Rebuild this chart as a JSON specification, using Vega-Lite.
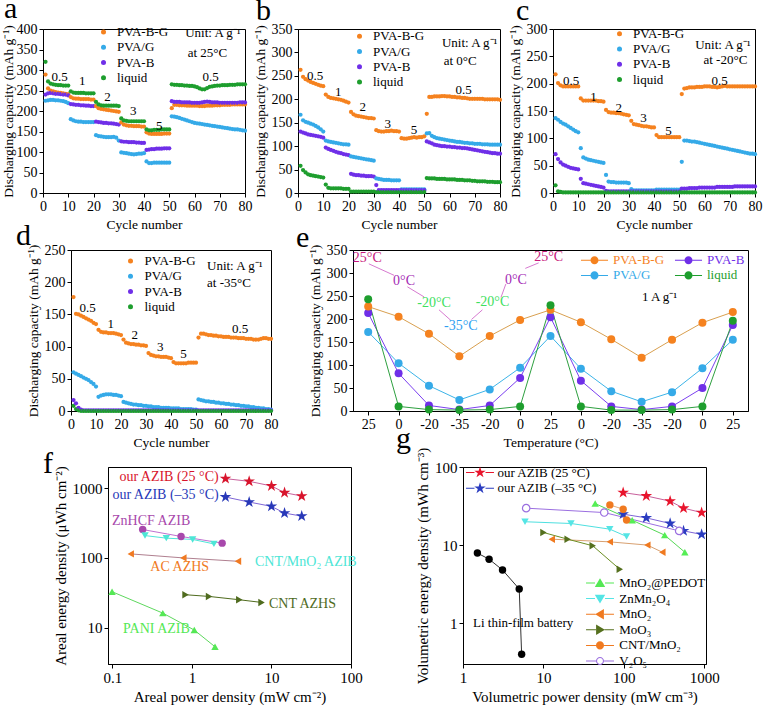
{
"$schema":"https://vega.github.io/schema/vega-lite/v6.json",
"padding":{"left":0,"top":-7,"right":0,"bottom":0},
"background":"white",
"config":{
 "font":"Liberation Serif",
 "view":{"stroke":"black","strokeWidth":1},
 "axis":{"grid":false,"domainColor":"black","tickColor":"black","labelColor":"black","titleColor":"black","labelFont":"Liberation Serif","titleFont":"Liberation Serif","labelFontSize":14,"titleFontSize":13.5,"titleFontWeight":"normal","tickSize":4,"labelPadding":2,"labelOverlap":false,"labelFlush":false},
 "legend":{"labelFont":"Liberation Serif","labelFontSize":13,"padding":0},
 "title":{"font":"Liberation Serif","fontSize":30,"fontWeight":"normal","anchor":"start","frame":"group","baseline":"alphabetic","color":"black"},
 "text":{"font":"Liberation Serif"}
},
"spacing":0,
"bounds":"flush",
"resolve":{"scale":{"color":"independent","fill":"independent","stroke":"independent","shape":"independent"}},
"vconcat":[
{"hconcat":[
 {"width":202,"height":164,"title":{"text":"a","dx":-39,"offset":-2},
  "layer":[
   {"data":{"values":[
{"c":1,"g":289,"p":225,"b":240,"l":320},{"c":2,"g":255,"p":226,"b":243,"l":272},{"c":3,"g":250,"p":227,"b":244,"l":267},{"c":4,"g":248,"p":227,"b":243,"l":265},{"c":5,"g":246,"p":226,"b":242,"l":264},{"c":6,"g":245,"p":226,"b":242,"l":263},{"c":7,"g":244,"p":225,"b":241,"l":263},{"c":8,"g":243,"p":224,"b":240,"l":262},{"c":9,"g":242,"p":222,"b":240,"l":262},{"c":10,"g":241,"p":219,"b":238,"l":262},
{"c":11,"g":234,"p":180,"b":217,"l":248},{"c":12,"g":231,"p":177,"b":216,"l":245},{"c":13,"g":230,"p":175,"b":215,"l":244},{"c":14,"g":230,"p":174,"b":215,"l":244},{"c":15,"g":229,"p":174,"b":214,"l":244},{"c":16,"g":229,"p":173,"b":214,"l":244},{"c":17,"g":229,"p":173,"b":213,"l":243},{"c":18,"g":229,"p":173,"b":213,"l":243},{"c":19,"g":228,"p":173,"b":212,"l":243},{"c":20,"g":228,"p":173,"b":212,"l":243},
{"c":21,"g":212,"p":141,"b":174,"l":222},{"c":22,"g":207,"p":139,"b":173,"l":216},{"c":23,"g":205,"p":138,"b":172,"l":214},{"c":24,"g":204,"p":137,"b":171,"l":213},{"c":25,"g":203,"p":136,"b":171,"l":213},{"c":26,"g":202,"p":136,"b":170,"l":213},{"c":27,"g":201,"p":136,"b":170,"l":213},{"c":28,"g":200,"p":137,"b":169,"l":213},{"c":29,"g":199,"p":135,"b":168,"l":213},{"c":30,"g":198,"p":128,"b":167,"l":212},
{"c":31,"g":172,"p":99,"b":126,"l":182},{"c":32,"g":167,"p":98,"b":125,"l":177},{"c":33,"g":165,"p":97,"b":125,"l":176},{"c":34,"g":164,"p":96,"b":124,"l":175},{"c":35,"g":164,"p":95,"b":124,"l":175},{"c":36,"g":163,"p":94,"b":124,"l":175},{"c":37,"g":163,"p":95,"b":123,"l":175},{"c":38,"g":163,"p":96,"b":123,"l":175},{"c":39,"g":162,"p":96,"b":122,"l":175},{"c":40,"g":162,"p":97,"b":122,"l":175},
{"c":41,"g":148,"p":77,"b":105,"l":155},{"c":42,"g":145,"p":73,"b":106,"l":153},{"c":43,"g":144,"p":73,"b":107,"l":153},{"c":44,"g":144,"p":74,"b":107,"l":154},{"c":45,"g":144,"p":74,"b":108,"l":154},{"c":46,"g":144,"p":74,"b":108,"l":154},{"c":47,"g":144,"p":74,"b":108,"l":155},{"c":48,"g":145,"p":74,"b":109,"l":155},{"c":49,"g":145,"p":74,"b":109,"l":155},{"c":50,"g":145,"p":74,"b":109,"l":155},
{"c":51,"g":207,"p":187,"b":224,"l":265},{"c":52,"g":215,"p":186,"b":222,"l":264},{"c":53,"g":215,"p":185,"b":222,"l":264},{"c":54,"g":214,"p":183,"b":222,"l":263},{"c":55,"g":214,"p":181,"b":221,"l":263},{"c":56,"g":214,"p":179,"b":221,"l":262},{"c":57,"g":213,"p":177,"b":221,"l":262},{"c":58,"g":213,"p":175,"b":221,"l":261},{"c":59,"g":213,"p":173,"b":220,"l":261},{"c":60,"g":213,"p":171,"b":220,"l":260},
{"c":61,"g":213,"p":170,"b":220,"l":258},{"c":62,"g":212,"p":169,"b":220,"l":255},{"c":63,"g":212,"p":168,"b":221,"l":253},{"c":64,"g":212,"p":167,"b":222,"l":253},{"c":65,"g":213,"p":166,"b":223,"l":256},{"c":66,"g":213,"p":165,"b":222,"l":259},{"c":67,"g":213,"p":164,"b":221,"l":260},{"c":68,"g":214,"p":163,"b":221,"l":261},{"c":69,"g":214,"p":162,"b":221,"l":262},{"c":70,"g":214,"p":161,"b":220,"l":262},
{"c":71,"g":215,"p":160,"b":220,"l":263},{"c":72,"g":215,"p":159,"b":220,"l":263},{"c":73,"g":215,"p":158,"b":220,"l":263},{"c":74,"g":215,"p":157,"b":220,"l":264},{"c":75,"g":216,"p":156,"b":220,"l":264},{"c":76,"g":216,"p":155,"b":220,"l":264},{"c":77,"g":216,"p":155,"b":220,"l":265},{"c":78,"g":216,"p":154,"b":221,"l":265},{"c":79,"g":216,"p":153,"b":221,"l":265},{"c":80,"g":216,"p":152,"b":221,"l":265}]},
    "transform":[{"fold":["g","p","b","l"],"as":["k","v"]}],
    "mark":{"type":"circle","size":18,"opacity":1},
    "encoding":{
     "x":{"field":"c","type":"quantitative","scale":{"domain":[0,80],"nice":false},"axis":{"values":[0,10,20,30,40,50,60,70,80],"tickCount":30,"labelOverlap":false,"labelFlush":false},"title":"Cycle number"},
     "y":{"field":"v","type":"quantitative","scale":{"domain":[0,400],"nice":false},"axis":{"values":[0,50,100,150,200,250,300,350,400],"tickCount":30,"labelOverlap":false,"labelFlush":false,"titlePadding":1},"title":"Discharging capacity (mAh g⁻¹)"},
     "color":{"field":"k","type":"nominal","scale":{"domain":["g","p","b","l"],"range":["#F5821F","#35AAE8","#6F2FE8","#1E9E2E"]},
      "legend":{"orient":"none","legendX":54,"legendY":-3.6,"title":null,"symbolType":"circle","symbolSize":25,"labelFontSize":13,"labelOffset":7,"rowPadding":1.3,"padding":0,"labelExpr":"{g:'PVA-B-G',p:'PVA/G',b:'PVA-B',l:'liquid'}[datum.value]","encode":{"labels":{"update":{"fill":{"signal":"{g:'#F5821F',p:'#35AAE8',b:'#6F2FE8',l:'#1E9E2E'}[datum.value]"}}}}}}
    }},
   {"data":{"values":[{"x":6.6,"y":284,"t":"0.5"},{"x":15.5,"y":272,"t":"1"},{"x":25.5,"y":235,"t":"2"},{"x":35.7,"y":201,"t":"3"},{"x":46,"y":163,"t":"5"},{"x":66.4,"y":284,"t":"0.5"}]},
    "mark":{"type":"text","fontSize":13,"baseline":"middle","align":"center","color":"black"},
    "encoding":{"x":{"field":"x","type":"quantitative","title":"Cycle number"},"y":{"field":"y","type":"quantitative","title":"Discharging capacity (mAh g⁻¹)"},"text":{"field":"t"}}},
   {"data":{"values":[{"x":56.3,"y":390,"t":"Unit: A g⁻¹"},{"x":57.3,"y":341,"t":"at 25°C"}]},
    "mark":{"type":"text","fontSize":13,"baseline":"middle","align":"left","color":"black"},
    "encoding":{"x":{"field":"x","type":"quantitative","title":"Cycle number"},"y":{"field":"y","type":"quantitative","title":"Discharging capacity (mAh g⁻¹)"},"text":{"field":"t"}}}
  ]},
 {"width":202,"height":164,"title":{"text":"b","dx":-42,"offset":-4},
  "layer":[
   {"data":{"values":[
{"c":1,"g":263,"p":167,"b":131,"l":58},{"c":2,"g":248,"p":155,"b":129,"l":49},{"c":3,"g":243,"p":152,"b":127,"l":44},{"c":4,"g":240,"p":150,"b":125,"l":40},{"c":5,"g":237,"p":148,"b":124,"l":38},{"c":6,"g":235,"p":146,"b":123,"l":37},{"c":7,"g":233,"p":143,"b":122,"l":36},{"c":8,"g":231,"p":140,"b":121,"l":35},{"c":9,"g":229,"p":136,"b":120,"l":34},{"c":10,"g":228,"p":131,"b":118,"l":33},
{"c":11,"g":210,"p":112,"b":97,"l":18},{"c":12,"g":205,"p":110,"b":94,"l":11},{"c":13,"g":203,"p":109,"b":92,"l":10},{"c":14,"g":202,"p":108,"b":90,"l":10},{"c":15,"g":201,"p":107,"b":88,"l":10},{"c":16,"g":200,"p":106,"b":86,"l":10},{"c":17,"g":199,"p":105,"b":85,"l":10},{"c":18,"g":197,"p":104,"b":83,"l":9},{"c":19,"g":195,"p":104,"b":82,"l":9},{"c":20,"g":193,"p":103,"b":81,"l":9},
{"c":21,"g":173,"p":78,"b":41,"l":3},{"c":22,"g":168,"p":77,"b":39,"l":3},{"c":23,"g":165,"p":76,"b":38,"l":3},{"c":24,"g":164,"p":75,"b":38,"l":3},{"c":25,"g":163,"p":74,"b":37,"l":3},{"c":26,"g":162,"p":73,"b":37,"l":3},{"c":27,"g":161,"p":72,"b":36,"l":3},{"c":28,"g":160,"p":71,"b":36,"l":3},{"c":29,"g":160,"p":70,"b":36,"l":3},{"c":30,"g":159,"p":69,"b":35,"l":3},
{"c":31,"g":134,"p":31,"b":17,"l":2},{"c":32,"g":132,"p":30,"b":6,"l":2},{"c":33,"g":131,"p":29,"b":6,"l":2},{"c":34,"g":131,"p":28,"b":6,"l":2},{"c":35,"g":132,"p":28,"b":6,"l":2},{"c":36,"g":132,"p":28,"b":6,"l":2},{"c":37,"g":133,"p":27,"b":6,"l":2},{"c":38,"g":132,"p":27,"b":6,"l":2},{"c":39,"g":132,"p":27,"b":6,"l":2},{"c":40,"g":131,"p":27,"b":6,"l":2},
{"c":41,"g":117,"p":8,"b":6,"l":2},{"c":42,"g":116,"p":8,"b":6,"l":2},{"c":43,"g":116,"p":8,"b":6,"l":2},{"c":44,"g":117,"p":8,"b":6,"l":2},{"c":45,"g":118,"p":8,"b":6,"l":2},{"c":46,"g":119,"p":8,"b":6,"l":2},{"c":47,"g":118,"p":8,"b":6,"l":2},{"c":48,"g":119,"p":8,"b":6,"l":2},{"c":49,"g":119,"p":8,"b":6,"l":2},{"c":50,"g":121,"p":8,"b":6,"l":2},
{"c":51,"g":169,"p":127,"b":110,"l":32},{"c":52,"g":205,"p":128,"b":108,"l":31},{"c":53,"g":205,"p":122,"b":106,"l":31},{"c":54,"g":206,"p":119,"b":103,"l":31},{"c":55,"g":206,"p":117,"b":102,"l":30},{"c":56,"g":206,"p":116,"b":101,"l":30},{"c":57,"g":207,"p":115,"b":100,"l":30},{"c":58,"g":207,"p":114,"b":100,"l":30},{"c":59,"g":206,"p":113,"b":99,"l":29},{"c":60,"g":206,"p":112,"b":99,"l":29},
{"c":61,"g":205,"p":111,"b":98,"l":29},{"c":62,"g":205,"p":110,"b":98,"l":29},{"c":63,"g":204,"p":109,"b":97,"l":28},{"c":64,"g":204,"p":109,"b":97,"l":28},{"c":65,"g":203,"p":108,"b":96,"l":28},{"c":66,"g":203,"p":107,"b":96,"l":27},{"c":67,"g":202,"p":107,"b":95,"l":27},{"c":68,"g":201,"p":106,"b":94,"l":27},{"c":69,"g":201,"p":106,"b":93,"l":26},{"c":70,"g":201,"p":105,"b":92,"l":26},
{"c":71,"g":201,"p":105,"b":91,"l":25},{"c":72,"g":201,"p":105,"b":90,"l":25},{"c":73,"g":201,"p":104,"b":89,"l":25},{"c":74,"g":200,"p":104,"b":88,"l":25},{"c":75,"g":200,"p":104,"b":87,"l":24},{"c":76,"g":200,"p":103,"b":86,"l":24},{"c":77,"g":200,"p":103,"b":85,"l":24},{"c":78,"g":200,"p":103,"b":85,"l":23},{"c":79,"g":200,"p":103,"b":84,"l":23},{"c":80,"g":199,"p":103,"b":84,"l":23}]},
    "transform":[{"fold":["g","p","b","l"],"as":["k","v"]}],
    "mark":{"type":"circle","size":18,"opacity":1},
    "encoding":{
     "x":{"field":"c","type":"quantitative","scale":{"domain":[0,80],"nice":false},"axis":{"values":[0,10,20,30,40,50,60,70,80],"tickCount":30,"labelOverlap":false,"labelFlush":false},"title":"Cycle number"},
     "y":{"field":"v","type":"quantitative","scale":{"domain":[0,350],"nice":false},"axis":{"values":[0,50,100,150,200,250,300,350],"tickCount":30,"labelOverlap":false,"labelFlush":false},"title":"Discharging capacity (mAh g⁻¹)"},
     "color":{"field":"k","type":"nominal","scale":{"domain":["g","p","b","l"],"range":["#F5821F","#35AAE8","#6F2FE8","#1E9E2E"]},
      "legend":{"orient":"none","legendX":55,"legendY":0.7,"title":null,"symbolType":"circle","symbolSize":25,"labelFontSize":13,"labelOffset":7,"rowPadding":1.3,"padding":0,"labelExpr":"{g:'PVA-B-G',p:'PVA/G',b:'PVA-B',l:'liquid'}[datum.value]","encode":{"labels":{"update":{"fill":{"signal":"{g:'#F5821F',p:'#35AAE8',b:'#6F2FE8',l:'#1E9E2E'}[datum.value]"}}}}}}
    }},
   {"data":{"values":[{"x":6.8,"y":250,"t":"0.5"},{"x":15.9,"y":216,"t":"1"},{"x":25.6,"y":183,"t":"2"},{"x":35.5,"y":147,"t":"3"},{"x":45.9,"y":134,"t":"5"},{"x":65.6,"y":220,"t":"0.5"}]},
    "mark":{"type":"text","fontSize":13,"baseline":"middle","align":"center","color":"black"},
    "encoding":{"x":{"field":"x","type":"quantitative","title":"Cycle number"},"y":{"field":"y","type":"quantitative","title":"Discharging capacity (mAh g⁻¹)"},"text":{"field":"t"}}},
   {"data":{"values":[{"x":57,"y":320,"t":"Unit: A g⁻¹"},{"x":57.7,"y":281,"t":"at 0°C"}]},
    "mark":{"type":"text","fontSize":13,"baseline":"middle","align":"left","color":"black"},
    "encoding":{"x":{"field":"x","type":"quantitative","title":"Cycle number"},"y":{"field":"y","type":"quantitative","title":"Discharging capacity (mAh g⁻¹)"},"text":{"field":"t"}}}
  ]},
 {"width":202,"height":164,"title":{"text":"c","dx":-37,"offset":-4},
  "layer":[
   {"data":{"values":[
{"c":1,"g":217,"p":137,"b":71,"l":14},{"c":2,"g":201,"p":134,"b":62,"l":3},{"c":3,"g":197,"p":130,"b":56,"l":2},{"c":4,"g":195,"p":127,"b":52,"l":1},{"c":5,"g":195,"p":125,"b":50,"l":1},{"c":6,"g":195,"p":122,"b":48,"l":1},{"c":7,"g":195,"p":119,"b":46,"l":1},{"c":8,"g":195,"p":116,"b":45,"l":1},{"c":9,"g":195,"p":113,"b":44,"l":1},{"c":10,"g":195,"p":111,"b":43,"l":1},
{"c":11,"g":173,"p":82,"b":26,"l":1},{"c":12,"g":169,"p":65,"b":18,"l":1},{"c":13,"g":169,"p":63,"b":17,"l":1},{"c":14,"g":169,"p":61,"b":16,"l":1},{"c":15,"g":169,"p":60,"b":15,"l":1},{"c":16,"g":169,"p":59,"b":14,"l":1},{"c":17,"g":169,"p":58,"b":13,"l":1},{"c":18,"g":168,"p":57,"b":12,"l":1},{"c":19,"g":168,"p":56,"b":11,"l":1},{"c":20,"g":167,"p":55,"b":10,"l":1},
{"c":21,"g":152,"p":33,"b":4,"l":1},{"c":22,"g":148,"p":21,"b":3,"l":1},{"c":23,"g":147,"p":20,"b":3,"l":1},{"c":24,"g":147,"p":20,"b":3,"l":1},{"c":25,"g":146,"p":19,"b":3,"l":1},{"c":26,"g":146,"p":19,"b":3,"l":1},{"c":27,"g":145,"p":19,"b":3,"l":1},{"c":28,"g":144,"p":19,"b":3,"l":1},{"c":29,"g":143,"p":19,"b":3,"l":1},{"c":30,"g":142,"p":18,"b":3,"l":1},
{"c":31,"g":132,"p":7,"b":3,"l":1},{"c":32,"g":126,"p":5,"b":3,"l":1},{"c":33,"g":125,"p":5,"b":3,"l":1},{"c":34,"g":124,"p":5,"b":3,"l":1},{"c":35,"g":123,"p":5,"b":3,"l":1},{"c":36,"g":122,"p":5,"b":3,"l":1},{"c":37,"g":122,"p":5,"b":3,"l":1},{"c":38,"g":121,"p":5,"b":3,"l":1},{"c":39,"g":120,"p":5,"b":3,"l":1},{"c":40,"g":120,"p":5,"b":3,"l":1},
{"c":41,"g":106,"p":6,"b":3,"l":1},{"c":42,"g":102,"p":6,"b":3,"l":1},{"c":43,"g":102,"p":6,"b":3,"l":1},{"c":44,"g":102,"p":6,"b":3,"l":1},{"c":45,"g":102,"p":6,"b":3,"l":1},{"c":46,"g":102,"p":6,"b":3,"l":1},{"c":47,"g":102,"p":6,"b":3,"l":1},{"c":48,"g":102,"p":6,"b":3,"l":1},{"c":49,"g":102,"p":6,"b":3,"l":1},{"c":50,"g":102,"p":6,"b":3,"l":1},
{"c":51,"g":181,"p":57,"b":8,"l":1},{"c":52,"g":191,"p":96,"b":8,"l":1},{"c":53,"g":192,"p":96,"b":8,"l":1},{"c":54,"g":193,"p":95,"b":9,"l":1},{"c":55,"g":193,"p":94,"b":9,"l":1},{"c":56,"g":193,"p":94,"b":9,"l":1},{"c":57,"g":194,"p":93,"b":9,"l":1},{"c":58,"g":194,"p":92,"b":10,"l":1},{"c":59,"g":194,"p":91,"b":10,"l":1},{"c":60,"g":195,"p":90,"b":10,"l":1},
{"c":61,"g":195,"p":89,"b":10,"l":1},{"c":62,"g":195,"p":88,"b":10,"l":1},{"c":63,"g":194,"p":87,"b":10,"l":1},{"c":64,"g":194,"p":86,"b":10,"l":1},{"c":65,"g":193,"p":85,"b":11,"l":1},{"c":66,"g":194,"p":84,"b":11,"l":1},{"c":67,"g":195,"p":83,"b":11,"l":1},{"c":68,"g":196,"p":82,"b":11,"l":1},{"c":69,"g":195,"p":81,"b":11,"l":1},{"c":70,"g":195,"p":80,"b":11,"l":1},
{"c":71,"g":195,"p":79,"b":11,"l":1},{"c":72,"g":195,"p":78,"b":12,"l":1},{"c":73,"g":195,"p":77,"b":12,"l":1},{"c":74,"g":195,"p":76,"b":12,"l":1},{"c":75,"g":195,"p":75,"b":12,"l":1},{"c":76,"g":195,"p":74,"b":12,"l":1},{"c":77,"g":195,"p":73,"b":12,"l":1},{"c":78,"g":195,"p":72,"b":12,"l":1},{"c":79,"g":195,"p":72,"b":12,"l":1},{"c":80,"g":195,"p":71,"b":12,"l":1}]},
    "transform":[{"fold":["g","p","b","l"],"as":["k","v"]}],
    "mark":{"type":"circle","size":18,"opacity":1},
    "encoding":{
     "x":{"field":"c","type":"quantitative","scale":{"domain":[0,80],"nice":false},"axis":{"values":[0,10,20,30,40,50,60,70,80],"tickCount":30,"labelOverlap":false,"labelFlush":false},"title":"Cycle number"},
     "y":{"field":"v","type":"quantitative","scale":{"domain":[0,300],"nice":false},"axis":{"values":[0,50,100,150,200,250,300],"tickCount":30,"labelOverlap":false,"labelFlush":false},"title":"Discharging capacity (mAh g⁻¹)"},
     "color":{"field":"k","type":"nominal","scale":{"domain":["g","p","b","l"],"range":["#F5821F","#35AAE8","#6F2FE8","#1E9E2E"]},
      "legend":{"orient":"none","legendX":60,"legendY":-1.8,"title":null,"symbolType":"circle","symbolSize":25,"labelFontSize":13,"labelOffset":7,"rowPadding":1.3,"padding":0,"labelExpr":"{g:'PVA-B-G',p:'PVA/G',b:'PVA-B',l:'liquid'}[datum.value]","encode":{"labels":{"update":{"fill":{"signal":"{g:'#F5821F',p:'#35AAE8',b:'#6F2FE8',l:'#1E9E2E'}[datum.value]"}}}}}}
    }},
   {"data":{"values":[{"x":7.2,"y":205,"t":"0.5"},{"x":16,"y":176,"t":"1"},{"x":26,"y":156,"t":"2"},{"x":35.8,"y":138,"t":"3"},{"x":45.7,"y":114,"t":"5"},{"x":66,"y":205,"t":"0.5"}]},
    "mark":{"type":"text","fontSize":13,"baseline":"middle","align":"center","color":"black"},
    "encoding":{"x":{"field":"x","type":"quantitative","title":"Cycle number"},"y":{"field":"y","type":"quantitative","title":"Discharging capacity (mAh g⁻¹)"},"text":{"field":"t"}}},
   {"data":{"values":[{"x":56.3,"y":271,"t":"Unit: A g⁻¹"},{"x":59.6,"y":243,"t":"at -20°C"}]},
    "mark":{"type":"text","fontSize":13,"baseline":"middle","align":"left","color":"black"},
    "encoding":{"x":{"field":"x","type":"quantitative","title":"Cycle number"},"y":{"field":"y","type":"quantitative","title":"Discharging capacity (mAh g⁻¹)"},"text":{"field":"t"}}}
  ]}
 ],
 "spacing":53,"bounds":"flush",
 "resolve":{"scale":{"color":"independent","fill":"independent","stroke":"independent","shape":"independent"}}
},
{"width":1,"height":221,"data":{"values":[{"z":0}]},"mark":{"type":"point","opacity":0},"view":{"stroke":null}},
{"hconcat":[
 {"width":28,"height":10,"data":{"values":[{"z":0}]},"mark":{"type":"point","opacity":0},"view":{"stroke":null}},
 {"width":200,"height":161,"title":{"text":"d","dx":-55,"offset":-8},
  "layer":[
   {"data":{"values":[
{"c":1,"g":177,"p":60,"b":17,"l":8},{"c":2,"g":151,"p":58,"b":12,"l":3},{"c":3,"g":150,"p":56,"b":5,"l":1},{"c":4,"g":148,"p":54,"b":2,"l":0},{"c":5,"g":146,"p":52,"b":1,"l":0},{"c":6,"g":144,"p":50,"b":1,"l":0},{"c":7,"g":142,"p":48,"b":1,"l":0},{"c":8,"g":140,"p":45,"b":1,"l":0},{"c":9,"g":137,"p":42,"b":1,"l":0},{"c":10,"g":135,"p":38,"b":1,"l":0},
{"c":11,"g":126,"p":22,"b":1,"l":0},{"c":12,"g":123,"p":24,"b":1,"l":0},{"c":13,"g":122,"p":25,"b":1,"l":0},{"c":14,"g":122,"p":26,"b":1,"l":0},{"c":15,"g":121,"p":26,"b":1,"l":0},{"c":16,"g":121,"p":26,"b":1,"l":0},{"c":17,"g":121,"p":25,"b":1,"l":0},{"c":18,"g":120,"p":25,"b":1,"l":0},{"c":19,"g":119,"p":24,"b":1,"l":0},{"c":20,"g":118,"p":23,"b":1,"l":0},
{"c":21,"g":111,"p":14,"b":1,"l":0},{"c":22,"g":106,"p":13,"b":1,"l":0},{"c":23,"g":105,"p":12,"b":1,"l":0},{"c":24,"g":104,"p":11,"b":1,"l":0},{"c":25,"g":104,"p":10,"b":1,"l":0},{"c":26,"g":103,"p":10,"b":1,"l":0},{"c":27,"g":103,"p":9,"b":1,"l":0},{"c":28,"g":102,"p":9,"b":1,"l":0},{"c":29,"g":102,"p":8,"b":1,"l":0},{"c":30,"g":101,"p":8,"b":1,"l":0},
{"c":31,"g":90,"p":7,"b":1,"l":0},{"c":32,"g":87,"p":7,"b":1,"l":0},{"c":33,"g":86,"p":6,"b":1,"l":0},{"c":34,"g":85,"p":6,"b":1,"l":0},{"c":35,"g":85,"p":6,"b":1,"l":0},{"c":36,"g":84,"p":5,"b":1,"l":0},{"c":37,"g":84,"p":5,"b":1,"l":0},{"c":38,"g":84,"p":5,"b":1,"l":0},{"c":39,"g":83,"p":5,"b":1,"l":0},{"c":40,"g":82,"p":4,"b":1,"l":0},
{"c":41,"g":76,"p":4,"b":1,"l":0},{"c":42,"g":74,"p":4,"b":1,"l":0},{"c":43,"g":74,"p":4,"b":1,"l":0},{"c":44,"g":74,"p":3,"b":1,"l":0},{"c":45,"g":74,"p":3,"b":1,"l":0},{"c":46,"g":74,"p":3,"b":1,"l":0},{"c":47,"g":75,"p":3,"b":1,"l":0},{"c":48,"g":75,"p":3,"b":1,"l":0},{"c":49,"g":75,"p":2,"b":1,"l":0},{"c":50,"g":75,"p":2,"b":1,"l":0},
{"c":51,"g":114,"p":18,"b":1,"l":0},{"c":52,"g":120,"p":17,"b":1,"l":0},{"c":53,"g":120,"p":16,"b":1,"l":0},{"c":54,"g":119,"p":15,"b":1,"l":0},{"c":55,"g":118,"p":15,"b":1,"l":0},{"c":56,"g":118,"p":14,"b":1,"l":0},{"c":57,"g":117,"p":14,"b":1,"l":0},{"c":58,"g":117,"p":13,"b":1,"l":0},{"c":59,"g":116,"p":13,"b":1,"l":0},{"c":60,"g":116,"p":12,"b":1,"l":0},
{"c":61,"g":115,"p":12,"b":1,"l":0},{"c":62,"g":115,"p":11,"b":1,"l":0},{"c":63,"g":115,"p":11,"b":1,"l":0},{"c":64,"g":114,"p":10,"b":1,"l":0},{"c":65,"g":114,"p":10,"b":1,"l":0},{"c":66,"g":114,"p":9,"b":1,"l":0},{"c":67,"g":113,"p":9,"b":1,"l":0},{"c":68,"g":113,"p":8,"b":1,"l":0},{"c":69,"g":113,"p":8,"b":1,"l":0},{"c":70,"g":112,"p":7,"b":1,"l":0},
{"c":71,"g":112,"p":7,"b":1,"l":0},{"c":72,"g":112,"p":6,"b":1,"l":0},{"c":73,"g":111,"p":6,"b":1,"l":0},{"c":74,"g":111,"p":5,"b":1,"l":0},{"c":75,"g":111,"p":5,"b":1,"l":0},{"c":76,"g":112,"p":4,"b":1,"l":0},{"c":77,"g":113,"p":4,"b":1,"l":0},{"c":78,"g":113,"p":3,"b":1,"l":0},{"c":79,"g":112,"p":3,"b":1,"l":0},{"c":80,"g":112,"p":2,"b":1,"l":0}]},
    "transform":[{"fold":["g","p","b","l"],"as":["k","v"]}],
    "mark":{"type":"circle","size":18,"opacity":1},
    "encoding":{
     "x":{"field":"c","type":"quantitative","scale":{"domain":[0,80],"nice":false},"axis":{"values":[0,10,20,30,40,50,60,70,80],"tickCount":30,"labelOverlap":false,"labelFlush":false},"title":"Cycle number"},
     "y":{"field":"v","type":"quantitative","scale":{"domain":[0,250],"nice":false},"axis":{"values":[0,50,100,150,200,250],"tickCount":30,"labelOverlap":false,"labelFlush":false},"title":"Discharging capacity (mAh g⁻¹)"},
     "color":{"field":"k","type":"nominal","scale":{"domain":["g","p","b","l"],"range":["#F5821F","#35AAE8","#6F2FE8","#1E9E2E"]},
      "legend":{"orient":"none","legendX":53,"legendY":4.4,"title":null,"symbolType":"circle","symbolSize":25,"labelFontSize":13,"labelOffset":7.5,"rowPadding":1.3,"padding":0,"labelExpr":"{g:'PVA-B-G',p:'PVA/G',b:'PVA-B',l:'liquid'}[datum.value]","encode":{"labels":{"update":{"fill":{"signal":"{g:'#F5821F',p:'#35AAE8',b:'#6F2FE8',l:'#1E9E2E'}[datum.value]"}}}}}}
    }},
   {"data":{"values":[{"x":6.6,"y":160,"t":"0.5"},{"x":15.9,"y":135,"t":"1"},{"x":25.5,"y":118,"t":"2"},{"x":35.7,"y":99,"t":"3"},{"x":45,"y":89,"t":"5"},{"x":67.6,"y":127,"t":"0.5"}]},
    "mark":{"type":"text","fontSize":13,"baseline":"middle","align":"center","color":"black"},
    "encoding":{"x":{"field":"x","type":"quantitative","title":"Cycle number"},"y":{"field":"y","type":"quantitative","title":"Discharging capacity (mAh g⁻¹)"},"text":{"field":"t"}}},
   {"data":{"values":[{"x":54.4,"y":225,"t":"Unit: A g⁻¹"},{"x":54.4,"y":199,"t":"at -35°C"}]},
    "mark":{"type":"text","fontSize":13,"baseline":"middle","align":"left","color":"black"},
    "encoding":{"x":{"field":"x","type":"quantitative","title":"Cycle number"},"y":{"field":"y","type":"quantitative","title":"Discharging capacity (mAh g⁻¹)"},"text":{"field":"t"}}}
  ]},
 {"width":82,"height":10,"data":{"values":[{"z":0}]},"mark":{"type":"point","opacity":0},"view":{"stroke":null}},
 {"width":395,"height":161,"title":{"text":"e","dx":-57,"offset":-10},
  "layer":[
   {"data":{"values":[{"x":0.02,"y":320,"x2":0.85,"y2":295},{"x":1.29,"y":270,"x2":1.84,"y2":248},{"x":2.33,"y":220,"x2":2.72,"y2":197},{"x":3.4,"y":199,"x2":3.76,"y2":220},{"x":4.37,"y":247,"x2":4.53,"y2":276},{"x":5.17,"y":310,"x2":5.61,"y2":322}]},
    "mark":{"type":"rule","color":"#D77AD0","strokeWidth":1},
    "encoding":{
     "x":{"field":"x","type":"quantitative","scale":{"domain":[-0.5,12.5],"nice":false},"axis":{"values":[0,1,2,3,4,5,6,7,8,9,10,11,12],"tickCount":30,"labelOverlap":false,"labelFlush":false,"labelExpr":"['25','0','-20','-35','-20','0','25','0','-20','-35','-20','0','25'][datum.value]"},"title":"Temperature (°C)"},
     "y":{"field":"y","type":"quantitative","scale":{"domain":[0,350],"nice":false},"axis":{"values":[0,50,100,150,200,250,300,350],"tickCount":30,"labelOverlap":false,"labelFlush":false},"title":"Discharging capacity (mAh g⁻¹)"},
     "x2":{"field":"x2"},"y2":{"field":"y2"}}},
   {"data":{"values":[{"i":0,"g":227,"p":172,"b":213,"l":243},{"i":1,"g":205,"p":104,"b":82,"l":10},{"i":2,"g":168,"p":55,"b":12,"l":3},{"i":3,"g":119,"p":24,"b":3,"l":2},{"i":4,"g":163,"p":47,"b":12,"l":3},{"i":5,"g":198,"p":94,"b":72,"l":10},{"i":6,"g":220,"p":163,"b":204,"l":230},{"i":7,"g":193,"p":92,"b":66,"l":10},{"i":8,"g":156,"p":43,"b":10,"l":2},{"i":9,"g":116,"p":20,"b":3,"l":2},{"i":10,"g":155,"p":41,"b":10,"l":3},{"i":11,"g":192,"p":93,"b":50,"l":10},{"i":12,"g":215,"p":155,"b":187,"l":196}]},
    "transform":[{"fold":["p","b","g","l"],"as":["k","v"]}],
    "layer":[
     {"mark":{"type":"line","strokeWidth":1},
      "encoding":{"x":{"field":"i","type":"quantitative","title":"Temperature (°C)"},"y":{"field":"v","type":"quantitative","title":"Discharging capacity (mAh g⁻¹)"},
       "stroke":{"field":"k","type":"nominal","scale":{"domain":["l","p","b","g"],"range":["#2EA040","#3CB4E8","#7B3FF0","#D9A050"]},"legend":null}}},
     {"mark":{"type":"circle","size":64,"opacity":1},
      "encoding":{"x":{"field":"i","type":"quantitative","title":"Temperature (°C)"},"y":{"field":"v","type":"quantitative","title":"Discharging capacity (mAh g⁻¹)"},
       "color":{"field":"k","type":"nominal","scale":{"domain":["g","b","p","l"],"range":["#F5821F","#6F2FE8","#35AAE8","#1E9E2E"]},
        "legend":{"orient":"none","legendX":235,"legendY":3.5,"title":null,"direction":"horizontal","columns":2,"columnPadding":9,"rowPadding":1.4,"symbolType":"M-2.08,-0.08L-0.62,-0.08L-0.62,0.08L-2.08,0.08ZM0.62,-0.08L2.08,-0.08L2.08,0.08L0.62,0.08ZM-0.62,0A0.62,0.62,0,1,1,0.62,0A0.62,0.62,0,1,1,-0.62,0Z","symbolSize":169,"symbolOpacity":1,"symbolStrokeWidth":0,"labelFontSize":13,"labelOffset":12,"padding":0,
         "labelExpr":"{g:'PVA-B-G',p:'PVA/G',b:'PVA-B',l:'liquid'}[datum.value]",
         "encode":{"labels":{"update":{"fill":{"signal":"{g:'#F5821F',p:'#35AAE8',b:'#6F2FE8',l:'#1E9E2E'}[datum.value]"}}}}}}}}
    ]},
   {"data":{"values":[{"x":-0.03,"y":332,"t":"25°C"},{"x":1.18,"y":283,"t":"0°C"},{"x":2.17,"y":234,"t":"-20°C"},{"x":3.05,"y":185,"t":"-35°C"},{"x":4.09,"y":238,"t":"-20°C"},{"x":4.86,"y":285,"t":"0°C"},{"x":5.94,"y":334,"t":"25°C"}]},
    "mark":{"type":"text","fontSize":14,"baseline":"middle","align":"center"},
    "encoding":{"x":{"field":"x","type":"quantitative","title":"Temperature (°C)"},"y":{"field":"y","type":"quantitative","title":"Discharging capacity (mAh g⁻¹)"},"text":{"field":"t"},
     "fill":{"field":"t","type":"nominal","scale":{"domain":["25°C","0°C","-20°C","-35°C"],"range":["#C8187C","#A42AB4","#3EE05E","#2E9EF0"]},"legend":null}}},
   {"data":{"values":[{"x":9.59,"y":247,"t":"1 A g⁻¹"}]},
    "mark":{"type":"text","fontSize":13,"baseline":"middle","align":"center","color":"black"},
    "encoding":{"x":{"field":"x","type":"quantitative","title":"Temperature (°C)"},"y":{"field":"y","type":"quantitative","title":"Discharging capacity (mAh g⁻¹)"},"text":{"field":"t"}}}
  ]}
 ],
 "spacing":0,"bounds":"flush",
 "resolve":{"scale":{"color":"independent","fill":"independent","stroke":"independent","shape":"independent"}}
},
{"width":1,"height":217,"data":{"values":[{"z":0}]},"mark":{"type":"point","opacity":0},"view":{"stroke":null}},
{"hconcat":[
 {"width":65,"height":10,"data":{"values":[{"z":0}]},"mark":{"type":"point","opacity":0},"view":{"stroke":null}},
 {"width":243,"height":197,"title":{"text":"f","dx":-65,"offset":-13},
  "data":{"values":[
{"s":"r25","x":2.64,"y":1362},{"s":"r25","x":5.24,"y":1247},{"s":"r25","x":10.0,"y":1069},{"s":"r25","x":14.6,"y":857},{"s":"r25","x":24.0,"y":767},
{"s":"b35","x":2.64,"y":743},{"s":"b35","x":5.24,"y":629},{"s":"b35","x":10.0,"y":545},{"s":"b35","x":14.6,"y":437},{"s":"b35","x":24.0,"y":395},
{"s":"zn","x":0.24,"y":254},{"s":"zn","x":0.73,"y":202},{"s":"zn","x":2.40,"y":162},
{"s":"cm","x":0.257,"y":208},{"s":"cm","x":0.476,"y":191},{"s":"cm","x":1.02,"y":183},{"s":"cm","x":1.89,"y":158},
{"s":"ac","x":0.17,"y":113.6},{"s":"ac","x":0.78,"y":99.5},{"s":"ac","x":3.79,"y":89},
{"s":"cnt","x":0.83,"y":29.5},{"s":"cnt","x":1.64,"y":27.9},{"s":"cnt","x":3.94,"y":25},{"s":"cnt","x":7.5,"y":22.9},
{"s":"pani","x":0.099,"y":32.6},{"s":"pani","x":0.43,"y":16.1},{"s":"pani","x":1.07,"y":9.2},{"s":"pani","x":1.95,"y":5.3}]},
  "layer":[
   {"mark":{"type":"line","strokeWidth":1},
    "encoding":{
     "x":{"field":"x","type":"quantitative","scale":{"type":"log","domain":[0.088,100],"nice":false},"axis":{"values":[0.1,1,10,100],"format":"~g","labelFontSize":15,"titleFontSize":15,"labelOverlap":false,"labelFlush":false},"title":"Areal power density (mW cm⁻²)"},
     "y":{"field":"y","type":"quantitative","scale":{"type":"log","domain":[3,2000],"nice":false},"axis":{"values":[10,100,1000],"format":"~g","labelFontSize":15,"titleFontSize":15,"labelOverlap":false,"labelFlush":false},"title":"Areal energy density (μWh cm⁻²)"},
     "stroke":{"field":"s","type":"nominal","scale":{"domain":["r25","b35","zn","cm","ac","cnt","pani"],"range":["#C8609C","#7F66D6","#C070D0","#4EE6D8","#B08090","#4F6B1E","#5ED85E"]},"legend":null}}},
   {"transform":[{"filter":{"field":"s","oneOf":["r25","b35"]}}],
    "mark":{"type":"point","filled":true,"size":150,"opacity":1,"shape":"M0,-1L0.2245,-0.309L0.951,-0.309L0.363,0.118L0.588,0.809L0,0.382L-0.588,0.809L-0.363,0.118L-0.951,-0.309L-0.2245,-0.309Z"},
    "encoding":{"x":{"field":"x","type":"quantitative","title":"Areal power density (mW cm⁻²)"},"y":{"field":"y","type":"quantitative","title":"Areal energy density (μWh cm⁻²)"},
     "fill":{"field":"s","type":"nominal","scale":{"domain":["r25","b35","zn","cm","ac","cnt","pani"],"range":["#D8142C","#2838B8","#A848AC","#4DE6D6","#F07A22","#4F6B1E","#55E855"]},"legend":null}}},
   {"transform":[{"filter":{"field":"s","oneOf":["zn","cm","ac","cnt","pani"]}}],
    "mark":{"type":"point","filled":true,"size":55,"opacity":1},
    "encoding":{"x":{"field":"x","type":"quantitative","title":"Areal power density (mW cm⁻²)"},"y":{"field":"y","type":"quantitative","title":"Areal energy density (μWh cm⁻²)"},
     "fill":{"field":"s","type":"nominal","legend":null},
     "shape":{"field":"s","type":"nominal","scale":{"domain":["zn","cm","ac","cnt","pani"],"range":["circle","triangle-down","triangle-left","triangle-right","triangle-up"]},"legend":null}}},
   {"data":{"values":[{"s":"r25","x":2.3,"y":1420,"t":"our AZIB  (25 °C)"},{"s":"b35","x":2.3,"y":784,"t":"our AZIB  (–35 °C)"}]},
    "mark":{"type":"text","fontSize":14,"baseline":"middle","align":"right","dx":-2},
    "encoding":{"x":{"field":"x","type":"quantitative","title":"Areal power density (mW cm⁻²)"},"y":{"field":"y","type":"quantitative","title":"Areal energy density (μWh cm⁻²)"},"text":{"field":"t"},"fill":{"field":"s","type":"nominal","legend":null}}},
   {"data":{"values":[{"s":"zn","x":0.099,"y":331,"t":"ZnHCF AZIB"},{"s":"ac","x":0.30,"y":73,"t":"AC AZHS"},{"s":"cm","x":6.2,"y":86,"t":"CNT/MnO₂ AZIB"},{"s":"cnt","x":9.3,"y":22,"t":"CNT AZHS"},{"s":"pani","x":0.136,"y":9.5,"t":"PANI AZIB"}]},
    "mark":{"type":"text","fontSize":14,"baseline":"middle","align":"left"},
    "encoding":{"x":{"field":"x","type":"quantitative","title":"Areal power density (mW cm⁻²)"},"y":{"field":"y","type":"quantitative","title":"Areal energy density (μWh cm⁻²)"},"text":{"field":"t"},"fill":{"field":"s","type":"nominal","legend":null}}}
  ]},
 {"width":112,"height":10,"data":{"values":[{"z":0}]},"mark":{"type":"point","opacity":0},"view":{"stroke":null}},
 {"width":243,"height":197,"title":{"text":"g","dx":-67,"offset":-6.5},
  "data":{"values":[
{"s":"r25","x":98,"y":47},{"s":"r25","x":190,"y":42.6},{"s":"r25","x":376,"y":36.5},{"s":"r25","x":552,"y":29.7},{"s":"r25","x":926,"y":26.1},
{"s":"b35","x":98,"y":24.9},{"s":"b35","x":190,"y":22.3},{"s":"b35","x":376,"y":18.9},{"s":"b35","x":552,"y":15.2},{"s":"b35","x":926,"y":13.7},
{"s":"pedot","x":44,"y":34},{"s":"pedot","x":127,"y":20.8},{"s":"pedot","x":322,"y":13.4},{"s":"pedot","x":573,"y":8.1},
{"s":"znmn","x":5.9,"y":19.9},{"s":"znmn","x":22,"y":18.9},{"s":"znmn","x":66.8,"y":16},{"s":"znmn","x":108,"y":12.9},
{"s":"mno2","x":12.7,"y":11.9},{"s":"mno2","x":66.8,"y":11},{"s":"mno2","x":196,"y":10},{"s":"mno2","x":301,"y":8.1},
{"s":"moo3","x":10,"y":14.5},{"s":"moo3","x":20,"y":11.9},{"s":"moo3","x":41,"y":9.8},{"s":"moo3","x":89,"y":4.9},
{"s":"cm","x":67,"y":32.7},{"s":"cm","x":98,"y":28.8},{"s":"cm","x":108,"y":21},
{"s":"v2o5","x":6.1,"y":29.7},{"s":"v2o5","x":57,"y":26.1},{"s":"v2o5","x":487,"y":15.2},
{"s":"li","x":1.51,"y":7.9},{"s":"li","x":2.11,"y":6.6},{"s":"li","x":3.1,"y":4.8},{"s":"li","x":5.0,"y":2.74},{"s":"li","x":5.36,"y":0.40}]},
  "resolve":{"scale":{"shape":"independent","color":"independent"}},
  "layer":[
   {"transform":[{"filter":{"field":"s","oneOf":["r25","b35","pedot","znmn","mno2","moo3","cm","v2o5"]}}],
    "mark":{"type":"line","strokeWidth":1},
    "encoding":{
     "x":{"field":"x","type":"quantitative","scale":{"type":"log","domain":[1,1050],"nice":false},"axis":{"values":[1,10,100,1000],"format":"~g","labelFontSize":15,"titleFontSize":15,"labelOverlap":false,"labelFlush":false},"title":"Volumetric power density (mW cm⁻³)"},
     "y":{"field":"y","type":"quantitative","scale":{"type":"log","domain":[0.3,100],"nice":false},"axis":{"values":[1,10,100],"format":"~g","labelFontSize":15,"titleFontSize":15,"labelOverlap":false,"labelFlush":false},"title":"Volumetric energy density (mWh cm⁻³)"},
     "stroke":{"field":"s","type":"nominal","scale":{"domain":["r25","b35","pedot","znmn","mno2","moo3","cm","v2o5"],"range":["#C8609C","#7F66D6","#55D855","#4EE0E0","#D8A070","#6B8E23","#E0B080","#9B6FE0"]},"legend":null}}},
   {"transform":[{"filter":{"field":"s","equal":"li"}}],
    "mark":{"type":"line","color":"#333333","strokeWidth":1},
    "encoding":{"x":{"field":"x","type":"quantitative","title":"Volumetric power density (mW cm⁻³)"},"y":{"field":"y","type":"quantitative","title":"Volumetric energy density (mWh cm⁻³)"}}},
   {"transform":[{"filter":{"field":"s","equal":"li"}}],
    "mark":{"type":"circle","color":"black","size":55,"opacity":1},
    "encoding":{"x":{"field":"x","type":"quantitative","title":"Volumetric power density (mW cm⁻³)"},"y":{"field":"y","type":"quantitative","title":"Volumetric energy density (mWh cm⁻³)"}}},
   {"transform":[{"filter":{"field":"s","oneOf":["r25","b35"]}}],
    "mark":{"type":"point","filled":true,"size":150,"opacity":1,"shape":"M0,-1L0.2245,-0.309L0.951,-0.309L0.363,0.118L0.588,0.809L0,0.382L-0.588,0.809L-0.363,0.118L-0.951,-0.309L-0.2245,-0.309Z"},
    "encoding":{"x":{"field":"x","type":"quantitative","title":"Volumetric power density (mW cm⁻³)"},"y":{"field":"y","type":"quantitative","title":"Volumetric energy density (mWh cm⁻³)"},
     "fill":{"field":"s","type":"nominal","scale":{"domain":["r25","b35"],"range":["#E8142C","#2A3CC0"]},
      "legend":{"orient":"none","legendX":10.5,"legendY":-1,"title":null,"padding":0,"symbolType":"M-2.15,-0.08L-0.85,-0.08L-0.85,0.08L-2.15,0.08ZM0.85,-0.08L2.15,-0.08L2.15,0.08L0.85,0.08ZM0,-0.92L0.207,-0.285L0.875,-0.284L0.335,0.109L0.541,0.744L0,0.352L-0.541,0.744L-0.335,0.109L-0.875,-0.284L-0.207,-0.285Z","symbolSize":169,"symbolOpacity":1,"symbolStrokeWidth":0,"rowPadding":1.8,"labelFontSize":13,"labelOffset":11,"labelColor":"black",
       "labelExpr":"{r25:'our AZIB (25 °C)',b35:'our AZIB  (–35 °C)'}[datum.value]"}}}},
   {"transform":[{"filter":{"field":"s","oneOf":["pedot","znmn","mno2","moo3","cm"]}}],
    "mark":{"type":"point","filled":true,"size":55,"opacity":1},
    "encoding":{"x":{"field":"x","type":"quantitative","title":"Volumetric power density (mW cm⁻³)"},"y":{"field":"y","type":"quantitative","title":"Volumetric energy density (mWh cm⁻³)"},
     "color":{"field":"s","type":"nominal","scale":{"domain":["cm","moo3","mno2","znmn","pedot"],"range":["#F07A20","#55701E","#F07A20","#55E5E5","#55EE55"]},"legend":null},
     "shape":{"field":"s","type":"nominal","scale":{"domain":["cm","moo3","mno2","znmn","pedot"],"range":["circle","triangle-right","triangle-left","triangle-down","triangle-up"]},"legend":null}}},
   {"transform":[{"filter":{"field":"s","equal":"v2o5"}}],
    "mark":{"type":"point","shape":"circle","filled":true,"fill":"white","stroke":"#9B6FE0","strokeWidth":1.2,"size":55,"opacity":1},
    "encoding":{"x":{"field":"x","type":"quantitative","title":"Volumetric power density (mW cm⁻³)"},"y":{"field":"y","type":"quantitative","title":"Volumetric energy density (mWh cm⁻³)"}}},
   {"transform":[{"filter":{"field":"s","oneOf":["pedot","znmn","mno2","moo3","cm","v2o5"]}}],
    "mark":{"type":"point","filled":true,"size":10,"opacity":0},
    "encoding":{"x":{"field":"x","type":"quantitative","title":"Volumetric power density (mW cm⁻³)"},"y":{"field":"y","type":"quantitative","title":"Volumetric energy density (mWh cm⁻³)"},
     "color":{"field":"s","type":"nominal","scale":{"domain":["pedot","znmn","mno2","moo3","cm","v2o5"],"range":["#55E855","#55E5E5","#F07A20","#55701E","#F07A20","#9B6FE0"]},
      "legend":{"orient":"none","legendX":130.5,"legendY":109.5,"title":null,"padding":0,"symbolSize":169,"symbolOpacity":1,"symbolStrokeWidth":0,"rowPadding":1.6,"labelFontSize":13,"labelOffset":12.8,"labelColor":"black",
       "labelExpr":"{pedot:'MnO₂@PEDOT',znmn:'ZnMn₂O₄',mno2:'MnO₂',moo3:'MoO₃',cm:'CNT/MnO₂',v2o5:'V₂O₅'}[datum.value]"}},
     "shape":{"field":"s","type":"nominal","scale":{"domain":["pedot","znmn","mno2","moo3","cm","v2o5"],"range":[
       "M-2.15,-0.08L-0.77,-0.08L-0.77,0.08L-2.15,0.08ZM0.77,-0.08L2.15,-0.08L2.15,0.08L0.77,0.08ZM0,-0.75L0.8,0.6L-0.8,0.6Z",
       "M-2.15,-0.08L-0.77,-0.08L-0.77,0.08L-2.15,0.08ZM0.77,-0.08L2.15,-0.08L2.15,0.08L0.77,0.08ZM0,0.75L0.8,-0.6L-0.8,-0.6Z",
       "M-2.15,-0.08L-0.7,-0.08L-0.7,0.08L-2.15,0.08ZM0.62,-0.08L2.15,-0.08L2.15,0.08L0.62,0.08ZM-0.75,0L0.6,-0.8L0.6,0.8Z",
       "M-2.15,-0.08L-0.62,-0.08L-0.62,0.08L-2.15,0.08ZM0.7,-0.08L2.15,-0.08L2.15,0.08L0.7,0.08ZM0.75,0L-0.6,-0.8L-0.6,0.8Z",
       "M-2.15,-0.08L-0.62,-0.08L-0.62,0.08L-2.15,0.08ZM0.62,-0.08L2.15,-0.08L2.15,0.08L0.62,0.08ZM-0.62,0A0.62,0.62,0,1,1,0.62,0A0.62,0.62,0,1,1,-0.62,0Z",
       "M-2.15,-0.08L-0.62,-0.08L-0.62,0.08L-2.15,0.08ZM0.62,-0.08L2.15,-0.08L2.15,0.08L0.62,0.08ZM-0.62,0A0.62,0.62,0,1,1,0.62,0A0.62,0.62,0,1,1,-0.62,0ZM-0.45,0A0.45,0.45,0,1,0,0.45,0A0.45,0.45,0,1,0,-0.45,0Z"]},
      "legend":{"orient":"none","legendX":130.5,"legendY":109.5,"title":null,"padding":0,"symbolSize":169,"symbolOpacity":1,"symbolStrokeWidth":0,"rowPadding":1.6,"labelFontSize":13,"labelOffset":12.8,"labelColor":"black",
       "labelExpr":"{pedot:'MnO₂@PEDOT',znmn:'ZnMn₂O₄',mno2:'MnO₂',moo3:'MoO₃',cm:'CNT/MnO₂',v2o5:'V₂O₅'}[datum.value]"}}}},
   {"data":{"values":[{"x":1.33,"y":1.0,"t":"Li thin-film battery"}]},
    "mark":{"type":"text","fontSize":13,"baseline":"middle","align":"left","color":"black"},
    "encoding":{"x":{"field":"x","type":"quantitative","title":"Volumetric power density (mW cm⁻³)"},"y":{"field":"y","type":"quantitative","title":"Volumetric energy density (mWh cm⁻³)"},"text":{"field":"t"}}}
  ]}
 ],
 "spacing":0,"bounds":"flush",
 "resolve":{"scale":{"color":"independent","fill":"independent","stroke":"independent","shape":"independent"}}
}
]
}
